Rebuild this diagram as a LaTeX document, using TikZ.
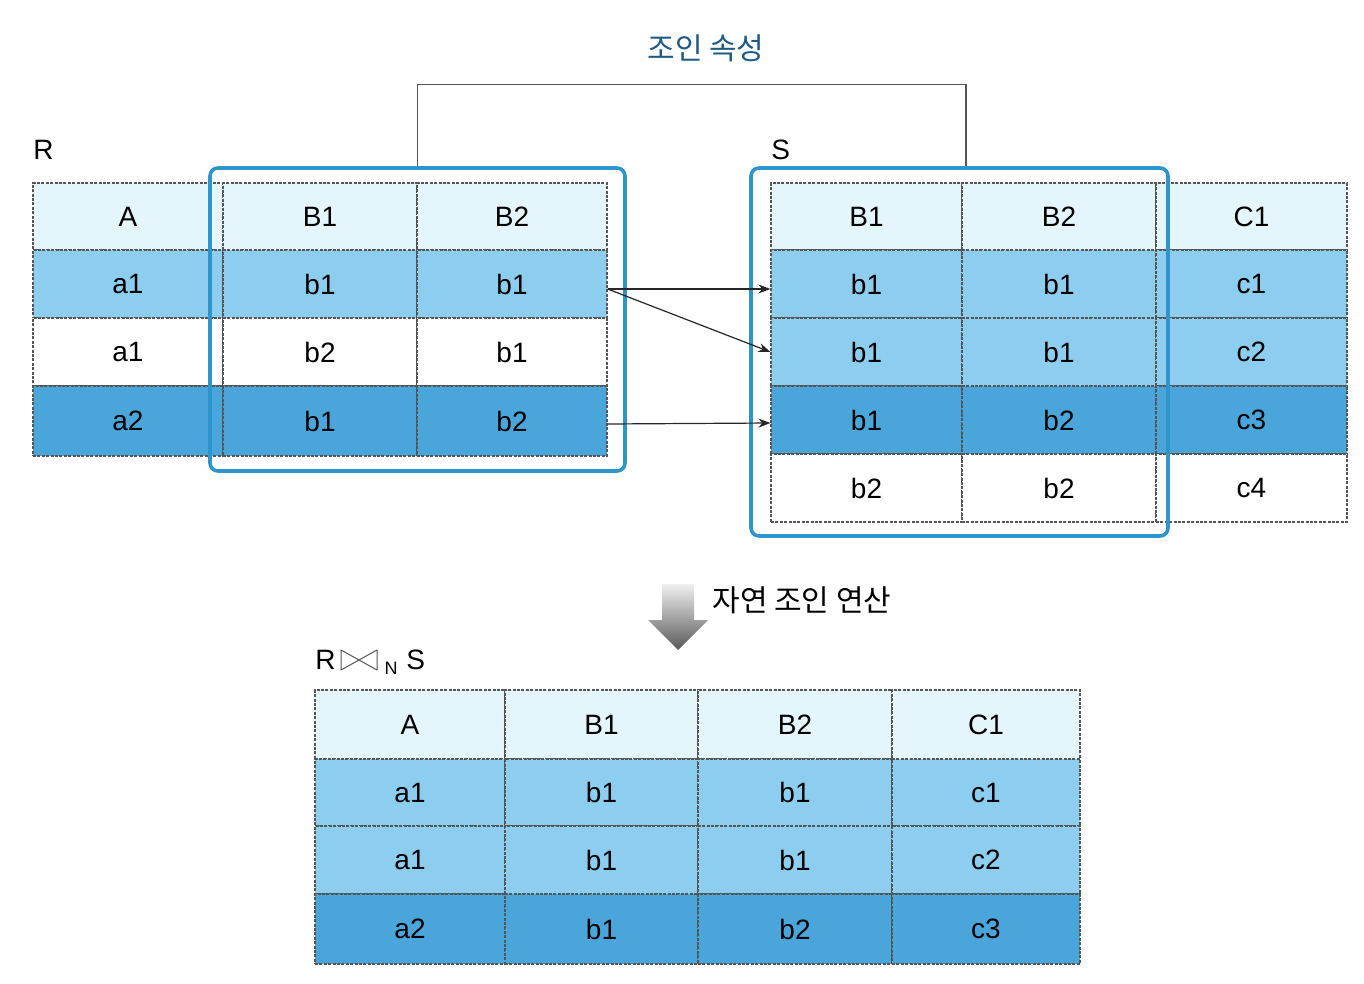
\documentclass[tikz,border=0pt]{standalone}
\usepackage{fontspec}
\setmainfont{Liberation Sans}
\newfontfamily\kr{Noto Sans CJK KR}
\usetikzlibrary{arrows.meta}
\definecolor{hdr}{HTML}{E4F5FB}
\definecolor{mid}{HTML}{8DCDEF}
\definecolor{drk}{HTML}{4AA6DA}
\definecolor{frm}{HTML}{2E95CC}
\definecolor{ttl}{HTML}{1E5A86}
\definecolor{grd}{HTML}{555555}
\newcommand\cellbox[7]{%
  \pgfmathsetmacro\cw{(#4-#2)*0.5}\pgfmathsetmacro\ch{(#5-#3)*0.5}%
  \node[cell,fill=#6,minimum width=\cw pt,minimum height=\ch pt] (#1) at ({(#2+#4)/2},{(#3+#5)/2}) {#7};}
\tikzset{
  cell/.style={draw=grd,dash pattern=on 1.5pt off 0.7pt,line width=0.6pt,inner sep=0pt,font=\fontsize{14}{16}\selectfont},
  frame/.style={draw=frm,line width=1.8pt,rounded corners=4pt,inner sep=0pt},
  conn/.style={draw=black!85,line width=0.6pt,-{Stealth[length=6pt,width=4.5pt]}},
  lbl/.style={font=\fontsize{14}{16}\selectfont,inner sep=0pt},
  krlbl/.style={font=\kr\fontsize{15}{17}\selectfont,inner sep=0pt}
}
\begin{document}
\begin{tikzpicture}[x=0.5pt,y=-0.5pt]
\useasboundingbox (0,0) rectangle (1364,984);
% R table
\cellbox{r00}{33}{183}{223}{250}{hdr}{A}
\cellbox{r01}{223}{183}{417}{250}{hdr}{B1}
\cellbox{r02}{417}{183}{607}{250}{hdr}{B2}
\cellbox{r10}{33}{250}{223}{318}{mid}{a1}
\cellbox{r11}{223}{250}{417}{318}{mid}{b1}
\cellbox{r12}{417}{250}{607}{318}{mid}{b1}
\cellbox{r20}{33}{318}{223}{386}{white}{a1}
\cellbox{r21}{223}{318}{417}{386}{white}{b2}
\cellbox{r22}{417}{318}{607}{386}{white}{b1}
\cellbox{r30}{33}{386}{223}{456}{drk}{a2}
\cellbox{r31}{223}{386}{417}{456}{drk}{b1}
\cellbox{r32}{417}{386}{607}{456}{drk}{b2}
% S table
\cellbox{s00}{771}{183}{962}{250}{hdr}{B1}
\cellbox{s01}{962}{183}{1156}{250}{hdr}{B2}
\cellbox{s02}{1156}{183}{1347}{250}{hdr}{C1}
\cellbox{s10}{771}{250}{962}{318}{mid}{b1}
\cellbox{s11}{962}{250}{1156}{318}{mid}{b1}
\cellbox{s12}{1156}{250}{1347}{318}{mid}{c1}
\cellbox{s20}{771}{318}{962}{386}{mid}{b1}
\cellbox{s21}{962}{318}{1156}{386}{mid}{b1}
\cellbox{s22}{1156}{318}{1347}{386}{mid}{c2}
\cellbox{s30}{771}{386}{962}{454}{drk}{b1}
\cellbox{s31}{962}{386}{1156}{454}{drk}{b2}
\cellbox{s32}{1156}{386}{1347}{454}{drk}{c3}
\cellbox{s40}{771}{454}{962}{522}{white}{b2}
\cellbox{s41}{962}{454}{1156}{522}{white}{b2}
\cellbox{s42}{1156}{454}{1347}{522}{white}{c4}
% Result table
\cellbox{t00}{315}{690}{505}{759}{hdr}{A}
\cellbox{t01}{505}{690}{698}{759}{hdr}{B1}
\cellbox{t02}{698}{690}{892}{759}{hdr}{B2}
\cellbox{t03}{892}{690}{1080}{759}{hdr}{C1}
\cellbox{t10}{315}{759}{505}{826}{mid}{a1}
\cellbox{t11}{505}{759}{698}{826}{mid}{b1}
\cellbox{t12}{698}{759}{892}{826}{mid}{b1}
\cellbox{t13}{892}{759}{1080}{826}{mid}{c1}
\cellbox{t20}{315}{826}{505}{894}{mid}{a1}
\cellbox{t21}{505}{826}{698}{894}{mid}{b1}
\cellbox{t22}{698}{826}{892}{894}{mid}{b1}
\cellbox{t23}{892}{826}{1080}{894}{mid}{c2}
\cellbox{t30}{315}{894}{505}{964}{drk}{a2}
\cellbox{t31}{505}{894}{698}{964}{drk}{b1}
\cellbox{t32}{698}{894}{892}{964}{drk}{b2}
\cellbox{t33}{892}{894}{1080}{964}{drk}{c3}
% frames
\node[frame,minimum width=207.5pt,minimum height=151.5pt] (rframe) at (417.5,319.5) {};
\node[frame,minimum width=208.5pt,minimum height=184pt] (sframe) at (959.5,352) {};
% join attribute bracket
\draw[grd,line width=0.6pt] (rframe.north) -- ++(0,-82) -| ([xshift=3.25pt]sframe.north);
\node[krlbl,text=ttl] (title) at (706,48) {조인 속성};
% labels
\node[lbl,anchor=west] (rlab) at (33,150) {R};
\node[lbl,anchor=west] (slab) at (771,150) {S};
% arrows
\draw[conn] ([yshift=-2.5pt]r12.east) -- ([yshift=-2.5pt]s10.west);
\draw[conn] ([yshift=-2.5pt]r12.east) -- (s20.west);
\draw[conn] ([yshift=-1.5pt]r32.east) -- ([yshift=-1.5pt]s30.west);
% down arrow
\shade[top color=gray!12,bottom color=gray!70!black] (662,584) -- (694,584) -- (694,620) -- (708,620) -- (678,650) -- (648,620) -- (662,620) -- cycle;
\node[krlbl,anchor=west] (op) at (712,600) {자연 조인 연산};
% R join_N S label
\node[lbl,anchor=west] (res) at (315,660) {R};
\draw[grd,line width=0.5pt,line join=round] (341,650) -- (341,670) -- (377,650) -- (377,670) -- cycle;
\node[lbl,font=\fontsize{9}{10}\selectfont] (resn) at (391,668) {N};
\node[lbl,anchor=west] (ress) at (406,660) {S};
\end{tikzpicture}
\end{document}
